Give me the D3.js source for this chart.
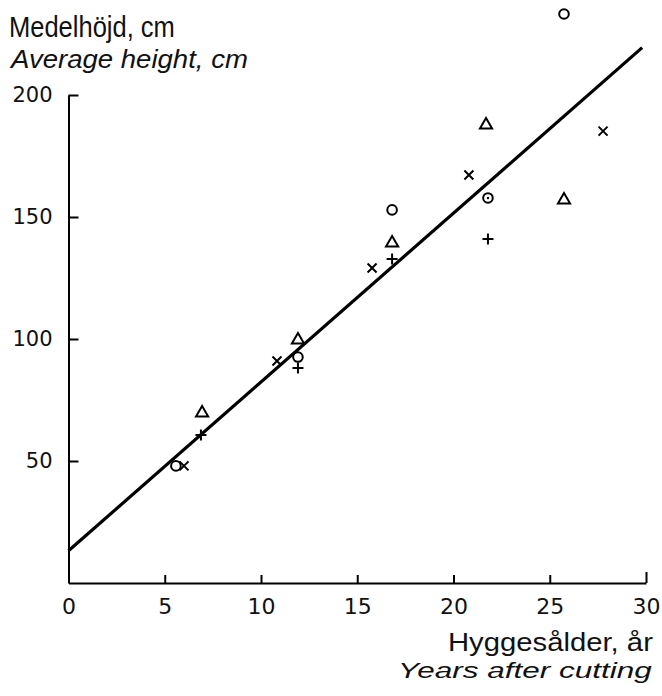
<!DOCTYPE html>
<html>
<head>
<meta charset="utf-8">
<script src="https://cdn.jsdelivr.net/npm/d3@7"></script>
<style>
  html, body { margin: 0; padding: 0; background: #fff; }
  svg { display: block; }
</style>
</head>
<body>
<svg id="chart" width="662" height="696"></svg>
<script>
// ---- data ----
const xTicks = [0, 5, 10, 15, 20, 25, 30];
const yTicks = [50, 100, 150, 200];

const circleX = [5.58, 11.92, 16.81, 25.74];
const circleY = [48.0, 92.6, 152.9, 233.2];

const dotCircleX = [21.79];
const dotCircleY = [157.8];

const triangleX = [6.94, 11.92, 16.81, 21.69, 25.74];
const triangleY = [69.7, 99.6, 139.3, 187.7, 157.0];

const crossX = [6.0, 10.83, 15.77, 20.8, 27.77];
const crossY = [48.0, 91.0, 129.1, 167.2, 185.2];

const plusX = [6.88, 11.92, 16.81, 21.79];
const plusY = [60.7, 88.1, 132.8, 141.0];

const lineX = [0, 29.8];
const lineY = [13.2, 219.4];

// ---- chart ----
const svg = d3.select("#chart");
const x = d3.scaleLinear().domain([0, 30]).range([68.5, 646]);
const y = d3.scaleLinear().domain([0, 200]).range([583, 95]);

const tickFont = "'DejaVu Sans', sans-serif";

// y axis
const gy = svg.append("g").attr("transform", `translate(${x(0)},0)`)
  .call(d3.axisLeft(y).tickValues(yTicks).tickSizeInner(-10).tickSizeOuter(0).tickPadding(16)
    .tickFormat(d3.format("d")));
gy.select(".domain").attr("stroke", "#000").attr("stroke-width", 2);
gy.selectAll(".tick line").attr("stroke", "#000").attr("stroke-width", 2);
gy.selectAll(".tick text").attr("font-family", tickFont).attr("font-size", 21).attr("fill", "#111");

// x axis
const gx = svg.append("g").attr("transform", `translate(0,${y(0)})`)
  .call(d3.axisBottom(x).tickValues(xTicks).tickSizeInner(-8).tickSizeOuter(0).tickPadding(15)
    .tickFormat(d3.format("d")));
gx.select(".domain").attr("stroke", "#000").attr("stroke-width", 2);
gx.selectAll(".tick line").attr("stroke", "#000").attr("stroke-width", 2)
  .attr("y2", d => d === 0 ? 0 : (d === 30 ? -11 : -8));
gx.selectAll(".tick text").attr("font-family", tickFont).attr("font-size", 22).attr("fill", "#111");

// regression line
svg.append("line")
  .attr("x1", x(lineX[0])).attr("y1", y(lineY[0]))
  .attr("x2", x(lineX[1])).attr("y2", y(lineY[1]))
  .attr("stroke", "#000").attr("stroke-width", 3.2);

const mk = svg.append("g").attr("fill", "none").attr("stroke", "#000").attr("stroke-width", 2);

// circles
mk.selectAll("circle.o").data(d3.zip(circleX, circleY)).join("circle")
  .attr("class", "o").attr("cx", d => x(d[0])).attr("cy", d => y(d[1])).attr("r", 4.8);

// dotted circle
mk.selectAll("circle.od").data(d3.zip(dotCircleX, dotCircleY)).join("circle")
  .attr("class", "od").attr("cx", d => x(d[0])).attr("cy", d => y(d[1])).attr("r", 4.8);
svg.selectAll("circle.dot").data(d3.zip(dotCircleX, dotCircleY)).join("circle")
  .attr("class", "dot").attr("cx", d => x(d[0])).attr("cy", d => y(d[1])).attr("r", 1.2).attr("fill", "#000");

// triangles
const tri = d3.symbol().type(d3.symbolTriangle).size(64);
mk.selectAll("path.t").data(d3.zip(triangleX, triangleY)).join("path")
  .attr("class", "t").attr("d", tri)
  .attr("transform", d => `translate(${x(d[0])},${y(d[1])})`);

// crosses (x)
mk.selectAll("path.x").data(d3.zip(crossX, crossY)).join("path")
  .attr("class", "x").attr("d", "M-4.5,-4.5L4.5,4.5M-4.5,4.5L4.5,-4.5")
  .attr("transform", d => `translate(${x(d[0])},${y(d[1])})`);

// plus
mk.selectAll("path.p").data(d3.zip(plusX, plusY)).join("path")
  .attr("class", "p").attr("d", "M-5.5,0L5.5,0M0,-5.5L0,5.5")
  .attr("transform", d => `translate(${x(d[0])},${y(d[1])})`);

// titles: fit each to its width by horizontal scaling
const upFont = "'Liberation Sans Narrow', 'Liberation Sans', sans-serif";
const itFont = "'Liberation Sans', sans-serif";

function fitText(str, left, baseline, size, width, italic) {
  const t = svg.append("text").attr("x", 0).attr("y", 0)
    .attr("font-family", italic ? itFont : upFont).attr("font-size", size)
    .attr("font-style", italic ? "italic" : "normal")
    .attr("fill", "#111").text(str);
  const w = t.node().getComputedTextLength();
  const sx = width / w;
  t.attr("transform", `translate(${left},${baseline}) scale(${sx},1)`);
  return t;
}

fitText("Medelhöjd, cm", 9, 37, 29, 166, false);
fitText("Average height, cm", 11, 68, 26, 237, true);
fitText("Hyggesålder, år", 448, 651, 25, 205, false);
fitText("Years after cutting", 398, 678, 22, 254, true);
</script>
</body>
</html>
